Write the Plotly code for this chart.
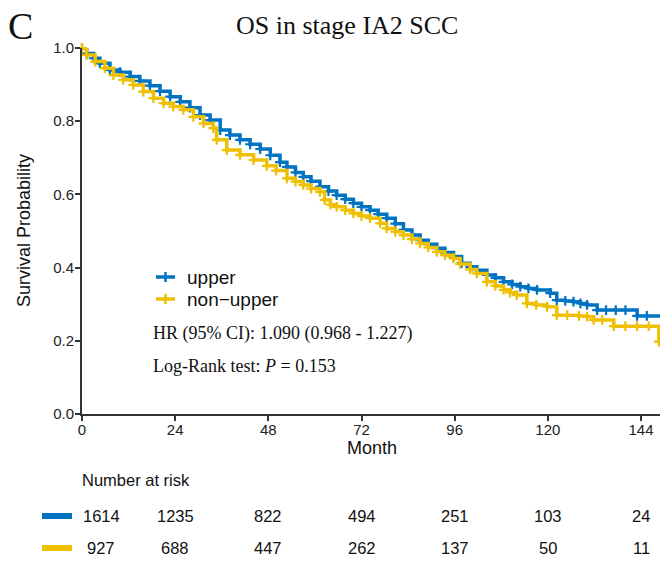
import plotly.graph_objects as go

# ---------------- data ----------------
upper_t = [0, 1.2, 3, 4.6, 7.2, 9.8, 12.4, 14.9, 17.5, 20.1, 22.7, 25.3, 27.8, 30.4, 33, 35.6, 38.1,
           40.7, 43.3, 45.9, 48.5, 51, 52.8, 55, 57, 59, 61.3, 63.5, 65.6, 67.8, 69.9, 72, 74.2, 76.3,
           78.5, 80.7, 82.8, 85, 87.1, 89.2, 91.4, 93.5, 95.7, 97.8, 100, 101.7, 104.3, 106.5, 108.6,
           110.8, 112.9, 115, 117.2, 120.6, 122.3, 124.5, 126.6, 128.4, 130.1, 132.7, 135, 137.5, 140,
           143, 145.5, 149]
upper_s = [1.0, 0.985, 0.972, 0.958, 0.940, 0.934, 0.922, 0.910, 0.897, 0.882, 0.867, 0.853, 0.837,
           0.817, 0.803, 0.776, 0.762, 0.749, 0.737, 0.724, 0.707, 0.688, 0.675, 0.660, 0.648, 0.636,
           0.621, 0.609, 0.598, 0.587, 0.576, 0.566, 0.557, 0.546, 0.535, 0.520, 0.503, 0.489, 0.475,
           0.464, 0.453, 0.441, 0.430, 0.412, 0.402, 0.393, 0.380, 0.372, 0.361, 0.354, 0.348, 0.343,
           0.339, 0.330, 0.311, 0.309, 0.307, 0.302, 0.298, 0.284, 0.284, 0.284, 0.284, 0.268, 0.268,
           0.268]

nonupper_t = [0, 1.2, 3.4, 5.9, 8.1, 10.6, 13.2, 15.8, 18.4, 21, 23.5, 26.1, 28.7, 31.3, 33.8, 34.7,
              37.3, 40.7, 44.2, 47.6, 50, 52.8, 55, 57, 59, 61.3, 62.5, 64, 65.6, 67.8, 69.9, 72, 74.2,
              76.8, 78.5, 80.7, 82.8, 85, 87.1, 89.2, 91.4, 93.5, 95.7, 97.4, 100, 101.7, 104.3, 106.5,
              108.6, 110.3, 112, 114.6, 117, 119.8, 122.3, 125, 128, 130.1, 131.8, 134, 137, 140, 143,
              146, 148.6, 149]
nonupper_s = [1.0, 0.981, 0.963, 0.945, 0.926, 0.913, 0.899, 0.881, 0.863, 0.849, 0.840, 0.831, 0.812,
              0.794, 0.781, 0.749, 0.721, 0.708, 0.694, 0.678, 0.665, 0.644, 0.635, 0.626, 0.616, 0.607,
              0.585, 0.572, 0.566, 0.557, 0.548, 0.541, 0.535, 0.521, 0.507, 0.498, 0.489, 0.478, 0.466,
              0.455, 0.443, 0.434, 0.425, 0.410, 0.395, 0.384, 0.361, 0.350, 0.339, 0.332, 0.325, 0.302,
              0.298, 0.293, 0.270, 0.270, 0.268, 0.266, 0.257, 0.257, 0.240, 0.240, 0.240, 0.240, 0.198,
              0.198]

risk_times = [0, 24, 48, 72, 96, 120, 144]
risk_upper = [1614, 1235, 822, 494, 251, 103, 24]
risk_nonupper = [927, 688, 447, 262, 137, 50, 11]
x_ticks = [0, 24, 48, 72, 96, 120, 144]
y_ticks = [0.0, 0.2, 0.4, 0.6, 0.8, 1.0]
y_tick_labels = ["0.0", "0.2", "0.4", "0.6", "0.8", "1.0"]
group_names = ["upper", "non\u2212upper"]

BLUE = "#0073C2"
YELLOW = "#EFC000"
SANS = "Liberation Sans, Arial, sans-serif"
SERIF = "Liberation Serif, Times New Roman, serif"

# layout geometry (pixels)
W, H = 660, 561
L, R, T, B = 82, 0, 48, 147
PW = W - L - R
PH = H - T - B


def px(x):
    return (x - L) / PW


def py(y):
    return (H - B - y) / PH


fig = go.Figure()
for name, t, s, c in [(group_names[0], upper_t, upper_s, BLUE), (group_names[1], nonupper_t, nonupper_s, YELLOW)]:
    fig.add_trace(go.Scatter(
        x=t, y=s, name=name, mode="lines+markers", showlegend=False,
        line=dict(color=c, width=3.5, shape="hv"),
        marker=dict(symbol="cross-thin", size=7, line=dict(color=c, width=2.2), color=c),
        cliponaxis=False,
    ))

fig.update_layout(
    width=W, height=H,
    margin=dict(l=L, r=R, t=T, b=B),
    plot_bgcolor="white", paper_bgcolor="white",
    font=dict(family=SANS, size=15, color="#222"),
    showlegend=False,
    xaxis=dict(range=[0, (W - L) / ((641 - 82) / 144)], tickmode="array", tickvals=x_ticks,
               showgrid=False, zeroline=False, showline=True, linecolor="#333", linewidth=2,
               ticks="outside", ticklen=5, tickwidth=1.5, tickcolor="#333", ticklabelstandoff=-4,
               tickfont=dict(family=SANS, size=15, color="#222")),
    yaxis=dict(range=[0, 1], tickmode="array", tickvals=y_ticks, ticktext=y_tick_labels,
               showgrid=False, zeroline=False, showline=True, linecolor="#333", linewidth=2,
               ticks="outside", ticklen=5, tickwidth=1.5, tickcolor="#333", ticklabelstandoff=-2,
               tickfont=dict(family=SANS, size=15, color="#222")),
)

ann = []
ann.append(dict(text="C", x=px(6), y=py(26), xref="paper", yref="paper", xanchor="left", yanchor="middle",
                showarrow=False, font=dict(family=SERIF, size=38, color="#111")))
ann.append(dict(text="OS in stage IA2 SCC", x=px(347), y=py(26), xref="paper", yref="paper",
                xanchor="center", yanchor="middle", showarrow=False,
                font=dict(family=SERIF, size=26, color="#111")))
ann.append(dict(text="Survival Probability", x=px(24), y=py(231), xref="paper", yref="paper",
                xanchor="center", yanchor="middle", textangle=-90, showarrow=False,
                font=dict(family=SANS, size=18, color="#111")))
ann.append(dict(text="Month", x=px(372), y=py(448), xref="paper", yref="paper",
                xanchor="center", yanchor="middle", showarrow=False,
                font=dict(family=SANS, size=18, color="#111")))
# legend (manual)
for i, (name, c) in enumerate(zip(group_names, [BLUE, YELLOW])):
    yy = 277 + 22 * i
    fig.add_shape(type="line", xref="paper", yref="paper", x0=px(156), x1=px(175), y0=py(yy), y1=py(yy),
                  line=dict(color=c, width=3.5))
    fig.add_shape(type="line", xref="paper", yref="paper", x0=px(165.5), x1=px(165.5), y0=py(yy - 5),
                  y1=py(yy + 5), line=dict(color=c, width=2.5))
    ann.append(dict(text=name, x=px(185), y=py(yy), xref="paper", yref="paper",
                    xanchor="left", yanchor="middle", showarrow=False,
                    font=dict(family=SANS, size=19, color="#111")))
ann.append(dict(text="HR (95% CI): 1.090 (0.968 - 1.227)", x=px(151), y=py(333), xref="paper", yref="paper",
                xanchor="left", yanchor="middle", showarrow=False,
                font=dict(family=SERIF, size=18, color="#111")))
ann.append(dict(text="Log-Rank test: <i>P</i> = 0.153", x=px(151), y=py(366), xref="paper", yref="paper",
                xanchor="left", yanchor="middle", showarrow=False,
                font=dict(family=SERIF, size=18, color="#111")))
ann.append(dict(text="Number at risk", x=px(80), y=py(480), xref="paper", yref="paper",
                xanchor="left", yanchor="middle", showarrow=False,
                font=dict(family=SANS, size=16.5, color="#111")))
for row_y, vals in [(516, risk_upper), (548, risk_nonupper)]:
    for i, (tt, v) in enumerate(zip(risk_times, vals)):
        ann.append(dict(text=str(v), x=tt, y=py(row_y), xref="x", yref="paper",
                        xanchor="center", yanchor="middle", showarrow=False,
                        xshift=(19 if i == 0 else 0),
                        font=dict(family=SANS, size=16.5, color="#111")))
fig.update_layout(annotations=ann)

for row_y, c in [(516, BLUE), (548, YELLOW)]:
    fig.add_shape(type="line", xref="paper", yref="paper", x0=px(42), x1=px(72), y0=py(row_y), y1=py(row_y),
                  line=dict(color=c, width=6))

fig.write_html("out.html", config={"displayModeBar": False},
               post_script="document.body.style.margin='0';document.body.style.overflow='hidden';")
